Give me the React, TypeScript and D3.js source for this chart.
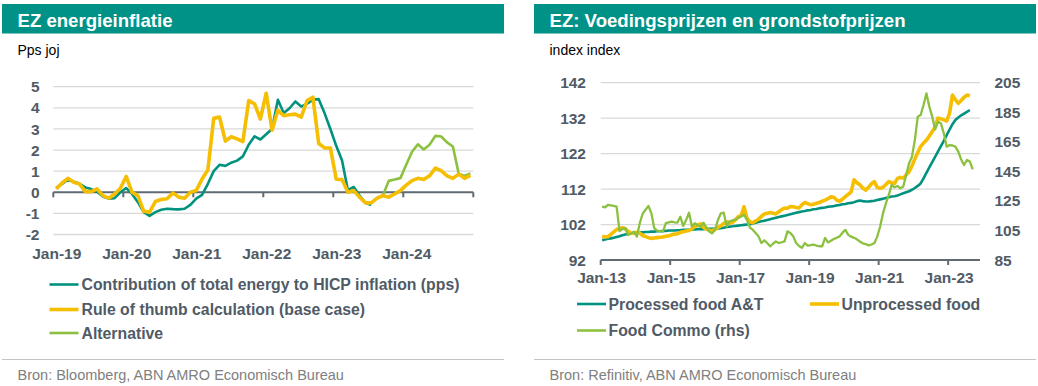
import React from "react";
import * as d3 from "d3";

// ---------- Left chart data (monthly, Jan-19 .. Dec-24) ----------
const leftStart = new Date(2019, 0, 1);
const leftEnd = new Date(2025, 0, 1);
const leftYTicks = [-2, -1, 0, 1, 2, 3, 4, 5];
const leftXTickLabels = ["Jan-19", "Jan-20", "Jan-21", "Jan-22", "Jan-23", "Jan-24"];

// Contribution of total energy to HICP inflation (pps), Jan-19 .. Jul-23
const energyContribution = [
  0.2, 0.4, 0.6, 0.5, 0.4, 0.23, 0.15, 0.03, -0.2, -0.3, -0.28, 0.0,
  0.2, -0.08, -0.47, -0.94, -1.12, -0.94, -0.83, -0.78, -0.8, -0.81, -0.78, -0.6,
  -0.3, -0.12, 0.4, 1.0, 1.3, 1.25, 1.4, 1.5, 1.7, 2.25, 2.65, 2.5,
  2.75, 3.0, 4.38, 3.75, 3.98, 4.3, 4.06, 4.2, 4.38, 4.41, 3.75, 3.0,
  2.2, 1.5, 0.1, 0.25, -0.15, -0.5, -0.6,
];
// Rule of thumb calculation (base case), Jan-19 .. Dec-24
const ruleOfThumb = [
  0.16, 0.44, 0.66, 0.47, 0.39, 0.03, 0.03, 0.16, -0.16, -0.28, -0.08, 0.19,
  0.75, 0.0, -0.16, -0.9, -0.94, -0.44, -0.34, -0.31, -0.03, -0.23, -0.28, 0.0,
  0.08, 0.63, 1.06, 3.5, 3.56, 2.42, 2.63, 2.53, 2.4, 4.34, 4.19, 3.47,
  4.69, 2.94, 3.88, 3.63, 3.67, 3.7, 3.56, 4.34, 4.5, 2.31, 2.1, 2.1,
  0.62, 0.6, 0.0, 0.08, -0.23, -0.5, -0.5, -0.28, -0.16, -0.23, -0.08, 0.08,
  0.34, 0.55, 0.66, 0.6, 0.78, 1.14, 1.02, 0.78, 0.66, 0.86, 0.66, 0.8,
];
// Alternative, Aug-23 .. Dec-24
const alternativeStart = new Date(2023, 7, 1);
const alternative = [
  -0.3, -0.15, 0.54, 0.6, 0.67, 1.3, 1.92, 2.27, 2.03, 2.25, 2.67, 2.64,
  2.36, 2.17, 0.88, 0.77, 0.89,
];

// ---------- Right chart data (monthly, Jan-13 .. ) ----------
const rightStart = new Date(2013, 0, 1);
const rightEnd = new Date(2023, 11, 1);
const rightLeftTicks = [92, 102, 112, 122, 132, 142];
const rightRightTicks = [85, 105, 125, 145, 165, 185, 205];
const rightXTickLabels = ["Jan-13", "Jan-15", "Jan-17", "Jan-19", "Jan-21", "Jan-23"];

const processedFood = [
  97.6, 97.8, 98.0, 98.1, 98.3, 98.5, 98.7, 99.0, 99.2, 99.4, 99.5, 99.6,
  99.7, 99.8, 99.8, 99.9, 99.9, 100.0, 100.0, 100.1, 100.1, 100.2, 100.2, 100.3,
  100.3, 100.3, 100.4, 100.4, 100.5, 100.5, 100.5, 100.6, 100.6, 100.7, 100.7, 100.7,
  100.8, 100.8, 100.8, 100.9, 100.9, 101.0, 101.1, 101.3, 101.4, 101.5, 101.6, 101.7,
  101.8, 101.9, 102.0, 102.1, 102.3, 102.5, 102.7, 102.9, 103.1, 103.3, 103.5, 103.7,
  103.9, 104.1, 104.3, 104.5, 104.7, 104.9, 105.1, 105.3, 105.5, 105.7, 105.8, 106.0,
  106.1, 106.3, 106.4, 106.6, 106.7, 106.8, 107.0, 107.1, 107.2, 107.4, 107.5, 107.7,
  107.8, 108.0, 108.1, 108.3, 108.6, 108.8, 108.6, 108.5, 108.5, 108.6, 108.7, 108.9,
  109.1, 109.3, 109.5, 109.7, 109.9, 110.0, 110.2, 110.5, 110.8, 111.1, 111.4, 111.8,
  112.3, 112.9, 113.6, 115.0, 116.6, 118.1, 119.6, 121.1, 122.6, 124.1, 125.6, 127.2,
  128.8, 130.3, 131.5, 132.2, 132.8, 133.3, 133.8, 134.3,
];
const unprocessedFood = [
  98.7, 98.5, 98.6, 99.2, 99.9, 100.6, 100.9, 101.1, 100.8, 100.1, 99.5, 99.6,
  99.8, 99.6, 98.9, 98.6, 98.3, 98.1, 98.2, 98.3, 98.4, 98.5, 98.7, 98.8,
  99.1, 99.3, 99.4, 99.8, 100.0, 100.2, 100.3, 100.8, 101.4, 101.9, 102.2, 101.2,
  100.7, 100.4, 100.3, 100.6, 101.2, 101.6, 102.3, 102.8, 102.4, 102.6, 103.3, 104.2,
  104.5, 107.0, 103.8, 102.8, 102.5, 103.0, 103.5, 104.3, 105.0, 105.2, 105.4, 105.2,
  105.0, 105.6, 106.2, 106.6, 106.6, 107.1, 107.0, 106.8, 106.7, 107.6, 108.2, 107.9,
  107.6, 107.7, 108.0, 108.2, 108.6, 108.9, 109.3, 109.8, 109.7, 108.9, 108.5, 109.2,
  109.9, 110.5, 111.2, 114.6, 113.8, 113.2, 112.3, 111.7, 112.5, 113.5, 114.1, 112.5,
  112.2, 112.5, 113.3, 114.1, 113.8, 113.6, 115.0, 115.3, 115.1, 116.0, 116.9, 118.5,
  120.5, 122.3, 124.0, 125.0, 125.8, 127.0, 128.2, 129.6, 132.0, 131.8, 131.5, 131.2,
  133.5, 138.5, 137.2, 136.2, 137.0, 137.9, 138.5, 138.3,
];
const foodCommo = [
  121.1, 120.7, 122.3, 122.0, 121.6, 121.2, 104.5, 106.0, 106.5, 101.9, 103.0, 104.2,
  100.8, 110.0, 116.5, 119.0, 121.6, 116.6, 106.5, 104.9, 104.5, 104.2, 109.9, 110.5,
  111.0, 110.5, 110.3, 114.3, 108.0, 112.0, 117.0, 107.6, 109.9, 108.5, 107.5, 110.3,
  107.0, 104.2, 103.0, 105.5, 112.1, 116.6, 117.0, 107.8, 111.2, 111.8, 112.3, 113.5,
  114.5, 115.6, 112.3, 107.0, 105.5, 103.3, 101.0, 96.5, 98.3, 96.5, 94.3, 96.0,
  97.6, 96.5, 97.0, 97.6, 104.4, 103.3, 101.0, 96.5, 94.5, 93.2, 96.5, 94.7,
  95.0, 95.4, 94.8, 94.3, 94.3, 99.9, 96.9, 98.0, 99.2, 100.0, 101.0, 103.5,
  105.4, 102.0, 100.8, 100.0, 99.0, 97.5, 96.3, 95.8, 94.9, 95.5, 96.3, 100.8,
  107.5, 116.6, 123.4, 129.0, 135.8, 134.2, 135.1, 133.5, 134.7, 142.5, 150.4, 154.9,
  166.2, 182.0, 183.1, 189.9, 197.8, 188.8, 182.0, 173.4, 178.6, 177.5, 170.7, 161.7,
  162.8, 162.5, 161.7, 158.3, 153.0, 149.3, 152.7, 151.6, 146.4,
];

// ---------- styling ----------
const FONT = "'Liberation Sans', Arial, Helvetica, sans-serif";
const TEXT = "#505b66";
const SRC = "#808080";
const HEADER = "#009286";
const TEAL = "#00927f";
const GOLD = "#f6be00";
const LIME = "#8cc03f";
const GRID = "#d9d9d9";
const AXIS = "#5f6a73";

function Panel({ x, title, unit, source }: { x: number; title: string; unit: string; source: string }) {
  return (
    <g>
      <rect x={x} y={4} width={502} height={29.5} fill={HEADER} />
      <text x={x + 15.5} y={26.5} fill="#fff" fontSize={18.6} fontWeight="bold">{title}</text>
      <text x={x + 15.5} y={55} fill="#000" fontSize={14}>{unit}</text>
      <line x1={x} x2={x + 502} y1={359.5} y2={359.5} stroke="#c4c4c4" strokeWidth={1} />
      <text x={x + 15.5} y={380} fill={SRC} fontSize={14.5}>{source}</text>
    </g>
  );
}

function LeftChart() {
  const months = d3.timeMonth.range(leftStart, leftEnd);
  const n = months.length;
  const x = d3.scaleLinear().domain([0, n]).range([53.3, 473.3]);
  const y = d3.scaleLinear().domain([-2, 5]).range([234.5, 86.7]);
  const idx = (dt: Date) => d3.timeMonth.count(leftStart, dt);
  const line = (offset: number) =>
    d3.line<number>().x((_, i) => x(offset + i + 0.5)).y((d) => y(d));
  const altOff = idx(alternativeStart);
  const tickIdx = d3.range(0, n + 1, 12);
  return (
    <g>
      {leftYTicks.filter((t) => t !== 0).map((t) => (
        <line key={t} x1={x(0)} x2={x(n)} y1={y(t)} y2={y(t)} stroke={GRID} strokeWidth={1.3} />
      ))}
      <line x1={x(0)} x2={x(n)} y1={y(0)} y2={y(0)} stroke={AXIS} strokeWidth={2} />
      {tickIdx.map((t) => (
        <line key={t} x1={x(t)} x2={x(t)} y1={y(0)} y2={y(0) + 5} stroke={AXIS} strokeWidth={2} />
      ))}
      {leftYTicks.map((t) => (
        <text key={t} x={39.5} y={y(t)} dy="0.36em" textAnchor="end" fill={TEXT} fontSize={15.5} fontWeight="bold">{t}</text>
      ))}
      {leftXTickLabels.map((l, i) => (
        <text key={l} x={x(tickIdx[i]) + 3.5} y={259} textAnchor="middle" fill={TEXT} fontSize={15.5} fontWeight="bold">{l}</text>
      ))}
      <path d={line(0)(energyContribution) || ""} fill="none" stroke={TEAL} strokeWidth={2.6} strokeLinejoin="round" />
      <path d={line(altOff)(alternative) || ""} fill="none" stroke={LIME} strokeWidth={2.6} strokeLinejoin="round" />
      <path d={line(0)(ruleOfThumb) || ""} fill="none" stroke={GOLD} strokeWidth={3.6} strokeLinejoin="round" />
      {[
        { c: TEAL, w: 2.6, t: "Contribution of total energy to HICP inflation (pps)", yy: 284.5 },
        { c: GOLD, w: 3.6, t: "Rule of thumb calculation (base case)", yy: 309.5 },
        { c: LIME, w: 2.6, t: "Alternative", yy: 333 },
      ].map((d) => (
        <g key={d.t}>
          <line x1={49.5} x2={78.5} y1={d.yy} y2={d.yy} stroke={d.c} strokeWidth={d.w} />
          <text x={81.5} y={d.yy} dy="0.36em" fill={TEXT} fontSize={15.8} fontWeight="bold">{d.t}</text>
        </g>
      ))}
    </g>
  );
}

function RightChart() {
  const months = d3.timeMonth.range(rightStart, rightEnd);
  const n = months.length;
  const x = d3.scaleLinear().domain([0, n]).range([600.7, 980]);
  const yl = d3.scaleLinear().domain([92, 142]).range([260, 82.7]);
  const yr = d3.scaleLinear().domain([85, 205]).range([260, 82.7]);
  const lineL = d3.line<number>().x((_, i) => x(i + 0.5)).y((d) => yl(d));
  const lineR = d3.line<number>().x((_, i) => x(i + 0.5)).y((d) => yr(d));
  const tickIdx = d3.range(0, n, 24);
  return (
    <g>
      {rightLeftTicks.filter((t) => t !== 92).map((t) => (
        <line key={t} x1={x(0)} x2={x(n)} y1={yl(t)} y2={yl(t)} stroke={GRID} strokeWidth={1.3} />
      ))}
      <line x1={x(0)} x2={x(n)} y1={yl(92)} y2={yl(92)} stroke={AXIS} strokeWidth={2} />
      {tickIdx.map((t) => (
        <line key={t} x1={x(t)} x2={x(t)} y1={yl(92)} y2={yl(92) + 5} stroke={AXIS} strokeWidth={2} />
      ))}
      {rightLeftTicks.map((t) => (
        <text key={t} x={586} y={yl(t)} dy="0.36em" textAnchor="end" fill={TEXT} fontSize={15.5} fontWeight="bold">{t}</text>
      ))}
      {rightRightTicks.map((t) => (
        <text key={t} x={994.5} y={yr(t)} dy="0.36em" textAnchor="start" fill={TEXT} fontSize={15.5} fontWeight="bold">{t}</text>
      ))}
      {rightXTickLabels.map((l, i) => (
        <text key={l} x={x(tickIdx[i]) + 1} y={283} textAnchor="middle" fill={TEXT} fontSize={15.5} fontWeight="bold">{l}</text>
      ))}
      <path d={lineL(processedFood) || ""} fill="none" stroke={TEAL} strokeWidth={2.6} strokeLinejoin="round" />
      <path d={lineL(unprocessedFood) || ""} fill="none" stroke={GOLD} strokeWidth={3.6} strokeLinejoin="round" />
      <path d={lineR(foodCommo) || ""} fill="none" stroke={LIME} strokeWidth={2.3} strokeLinejoin="round" />
      {[
        { c: TEAL, w: 2.6, t: "Processed food A&T", lx: 577, yy: 304 },
        { c: GOLD, w: 3.6, t: "Unprocessed food", lx: 810, yy: 304 },
        { c: LIME, w: 2.6, t: "Food Commo (rhs)", lx: 577, yy: 330.5 },
      ].map((d) => (
        <g key={d.t}>
          <line x1={d.lx} x2={d.lx + 29} y1={d.yy} y2={d.yy} stroke={d.c} strokeWidth={d.w} />
          <text x={d.lx + 31.5} y={d.yy} dy="0.36em" fill={TEXT} fontSize={15.8} fontWeight="bold">{d.t}</text>
        </g>
      ))}
    </g>
  );
}

export default function App() {
  return (
    <div style={{ position: "absolute", left: 0, top: 0 }}>
      <svg width={1038} height={386} style={{ display: "block", fontFamily: FONT }}>
        <rect width={1038} height={386} fill="#fff" />
        <Panel x={2} title="EZ energieinflatie" unit="Pps joj" source="Bron: Bloomberg, ABN AMRO Economisch Bureau" />
        <Panel x={534} title="EZ: Voedingsprijzen en grondstofprijzen" unit="index index" source="Bron: Refinitiv, ABN AMRO Economisch Bureau" />
        <LeftChart />
        <RightChart />
      </svg>
    </div>
  );
}
